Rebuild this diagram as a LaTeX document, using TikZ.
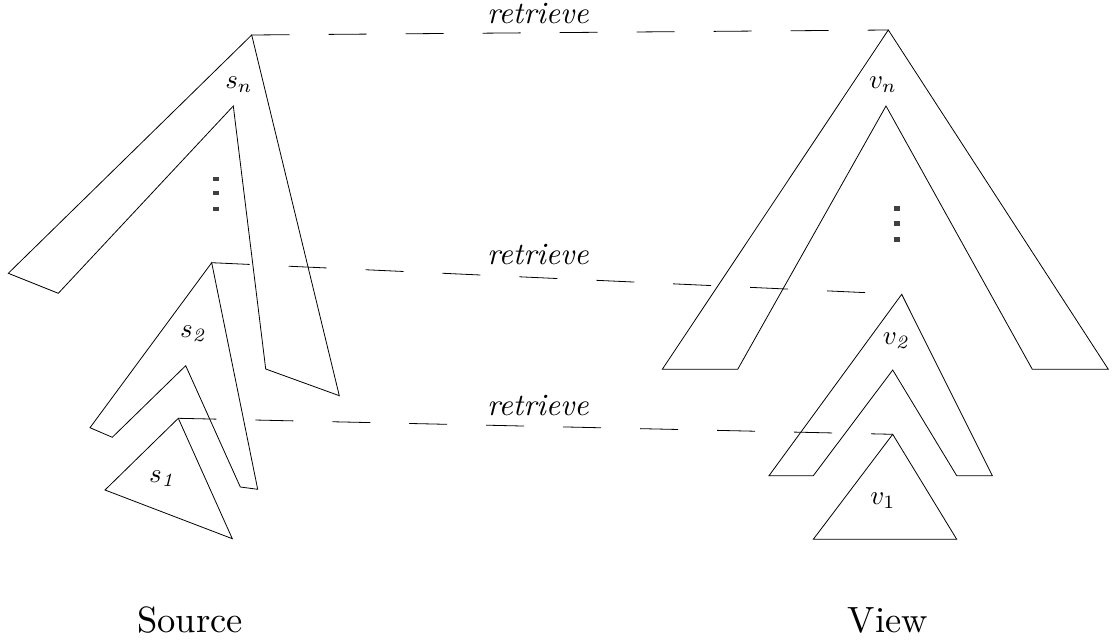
\documentclass[tikz,border=0pt]{standalone}
\begin{document}
\begin{tikzpicture}[x=1pt,y=-1pt,
  tri/.style={draw, line width=0.8pt, line join=miter},
  link/.style={draw, line width=0.8pt, dash pattern=on 38pt off 39pt},
  lbl/.style={inner sep=0pt, scale=2.7},
  rlbl/.style={inner sep=0pt, scale=3.1},
  caption/.style={inner sep=0pt, scale=3.65, anchor=base},
  sqdot/.style={fill=black!75, draw=none}]
\useasboundingbox (0,0) rectangle (1116,644);

% ---- Source side ----
\coordinate (sA) at (251.7,35);
\coordinate (s2A) at (211.7,262.7);
\coordinate (s1A) at (178.3,418.3);
\draw[tri] (sA) -- (8.3,273.3) -- (58.3,293.3) -- (233.3,106) -- (265.7,369) -- (339.3,395.7) -- cycle;
\draw[tri] (s2A) -- (90,427.7) -- (112.3,437.3) -- (185.7,365.7) -- (240.3,487) -- (257.7,489.3) -- cycle;
\draw[tri] (s1A) -- (105,490) -- (232.3,538.7) -- cycle;

\node[lbl] (sn) at (239,85) {$s_n$};
\node[lbl] (s2) at (194,334) {$s_{\mathit{2}}$};
\node[lbl] (s1) at (163,479) {$s_{\mathit{1}}$};
\fill[sqdot] (213.3,176.7) rectangle (218.7,180.7);
\fill[sqdot] (213.3,191.3) rectangle (218.7,195.3);
\fill[sqdot] (213.3,207.3) rectangle (218.7,211.3);

% ---- View side ----
\coordinate (vA) at (888.3,30);
\coordinate (v2A) at (901.7,294.3);
\coordinate (v1A) at (892.7,434.3);
\draw[tri] (vA) -- (662.3,369.3) -- (737.7,369.3) -- (886,106) -- (1032.3,369.3) -- (1108.3,369.3) -- cycle;
\draw[tri] (v2A) -- (769,475.7) -- (813.3,475.7) -- (892.7,370) -- (956.7,475.7) -- (992.3,475.7) -- cycle;
\draw[tri] (v1A) -- (813.3,539.3) -- (956.7,539.3) -- cycle;

\node[lbl] (vn) at (883,85) {$v_n$};
\node[lbl] (v2) at (897,341) {$v_{\mathit{2}}$};
\node[lbl] (v1) at (883,501) {$v_1$};
\fill[sqdot] (894,206) rectangle (900,210.7);
\fill[sqdot] (894,221) rectangle (900,225.7);
\fill[sqdot] (894,237) rectangle (900,241.7);

% ---- retrieve links ----
\draw[link] (sA) -- (vA);
\draw[link] (s2A) -- (v2A);
\draw[link] (s1A) -- (v1A);
\node[rlbl] (r1) at (538,14) {\textit{retrieve}};
\node[rlbl] (r2) at (538,255) {\textit{retrieve}};
\node[rlbl] (r3) at (538,406) {\textit{retrieve}};

% ---- captions ----
\node[caption] (src) at (190,632.7) {Source};
\node[caption] (view) at (888,632.7) {View};
\end{tikzpicture}
\end{document}
